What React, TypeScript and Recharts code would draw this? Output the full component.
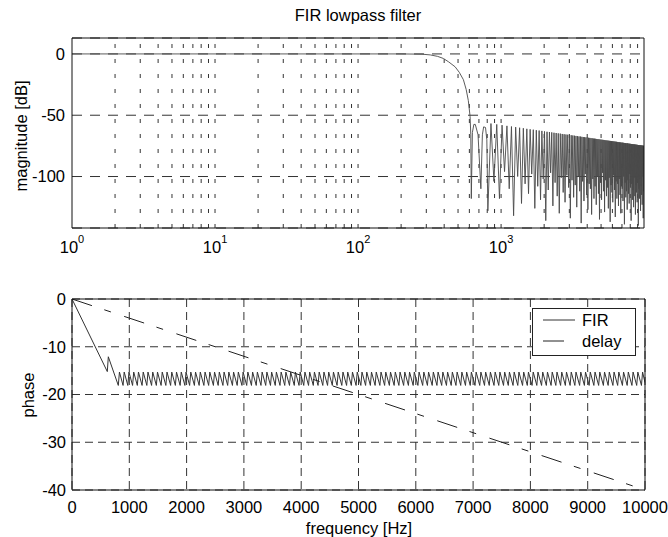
import React from 'react';
import { LineChart, Line, XAxis, YAxis, CartesianGrid, ReferenceLine, Legend } from 'recharts';

const FONT = '"Liberation Sans", Arial, Helvetica, sans-serif';
const FS = 16.5;
const INK = '#111';
const GRID = '#333';

// ---------- top panel: magnitude ----------
const magXDomain = [1, 9980];
const magYDomain = [-142, 13];
const magXTicks = [1, 10, 100, 1000];
const magYTicks = [-100, -50, 0];
const logGridHz = [
  2, 3, 4, 5, 6, 7, 8, 9, 10,
  20, 30, 40, 50, 60, 70, 80, 90, 100,
  200, 300, 400, 500, 600, 700, 800, 900, 1000,
  2000, 3000, 4000, 5000, 6000, 7000, 8000, 9000,
];

// passband + transition band
const passHz = [1, 50, 100, 200, 280, 320, 360, 395, 430, 477, 510, 545, 570, 590, 607, 614, 619, 630, 645, 660, 690, 722, 740, 755, 778, 795];
const passDb = [0, 0, 0, 0, -0.2, -0.8, -2, -3.7, -6.5, -10.5, -15, -21, -29, -38, -51, -66, -118, -64, -57.5, -57.5, -66, -110, -66, -59.5, -60, -70];

// stopband zeros (also the phase jumps)
const zeroHz = [
  808, 891, 974, 1057, 1140, 1223, 1306, 1389, 1472, 1555,
  1638, 1721, 1804, 1887, 1970, 2053, 2136, 2219, 2302, 2385,
  2468, 2551, 2634, 2717, 2800, 2883, 2966, 3049, 3132, 3215,
  3298, 3381, 3464, 3547, 3630, 3713, 3796, 3879, 3962, 4045,
  4128, 4211, 4294, 4377, 4460, 4543, 4626, 4709, 4792, 4875,
  4958, 5041, 5124, 5207, 5290, 5373, 5456, 5539, 5622, 5705,
  5788, 5871, 5954, 6037, 6120, 6203, 6286, 6369, 6452, 6535,
  6618, 6701, 6784, 6867, 6950, 7033, 7116, 7199, 7282, 7365,
  7448, 7531, 7614, 7697, 7780, 7863, 7946, 8029, 8112, 8195,
  8278, 8361, 8444, 8527, 8610, 8693, 8776, 8859, 8942, 9025,
  9108, 9191, 9274, 9357, 9440, 9523, 9606, 9689, 9772, 9855,
  9938,
];
const zeroDb = [
  -128, -104, -118, -96, -110, -132, -100, -122, -106, -114,
  -98, -126, -108, -119, -102, -136, -111, -97, -124, -105,
  -116, -130, -101, -113, -121, -99, -109, -134, -103, -117,
  -107, -125, -100, -112, -138, -104, -120, -98, -115, -127,
  -106, -110, -131, -102, -118, -108, -123, -100, -114, -135,
  -105, -119, -97, -112, -129, -103, -116, -109, -126, -101,
  -137, -107, -113, -121, -99, -111, -133, -104, -118, -106,
  -124, -102, -115, -130, -108, -110, -120, -100, -139, -105,
  -117, -112, -127, -103, -114, -122, -98, -109, -136, -106,
  -119, -111, -125, -101, -116, -131, -107, -113, -121, -104,
  -140, -110, -118, -102, -128, -108, -115, -123, -100, -134,
  -112,
];
const lobePeakDb = [
  -56.8, -57.5, -58.1, -58.7, -59.2, -59.7, -60.2, -60.6, -61.1, -61.5,
  -61.8, -62.2, -62.5, -62.8, -63.2, -63.5, -63.7, -64.0, -64.3, -64.5,
  -64.8, -65.0, -65.3, -65.5, -65.7, -65.9, -66.1, -66.3, -66.5, -66.7,
  -66.9, -67.1, -67.3, -67.4, -67.6, -67.8, -67.9, -68.1, -68.2, -68.4,
  -68.5, -68.7, -68.8, -69.0, -69.1, -69.2, -69.4, -69.5, -69.6, -69.8,
  -69.9, -70.0, -70.1, -70.2, -70.4, -70.5, -70.6, -70.7, -70.8, -70.9,
  -71.0, -71.1, -71.2, -71.3, -71.4, -71.5, -71.6, -71.7, -71.8, -71.9,
  -72.0, -72.1, -72.2, -72.3, -72.4, -72.4, -72.5, -72.6, -72.7, -72.8,
  -72.9, -72.9, -73.0, -73.1, -73.2, -73.3, -73.3, -73.4, -73.5, -73.6,
  -73.6, -73.7, -73.8, -73.9, -73.9, -74.0, -74.1, -74.1, -74.2, -74.3,
  -74.3, -74.4, -74.5, -74.5, -74.6, -74.7, -74.7, -74.8, -74.9, -74.9,
  -75.0,
];

// ---------- bottom panel: phase ----------
const phaseXDomain = [0, 10000];
const phaseYDomain = [-40, 0];
const phaseXTicks = [0, 1000, 2000, 3000, 4000, 5000, 6000, 7000, 8000, 9000, 10000];
const phaseYTicks = [-40, -30, -20, -10, 0];
const firLeadHz = [0, 616, 634];
const firLeadVal = [0, -15.2, -12.1];
const toothTopVal = -15.3;
const toothBottomVal = -18.1;
const toothRiseHz = 20;
const firTailHz = 10000;
const firTailVal = -17.5;
const delayHz = [0, 10000];
const delayVal = [0, -40];

const seriesStyle: Record<string, { stroke: string; dash?: string; width: number }> = {
  FIR: { stroke: '#333', width: 1 },
  delay: { stroke: '#222', dash: '21 13 7 14', width: 1 },
};

// ---------- build tables ----------
const magData: { f: number; db: number }[] = [];
passHz.forEach((f, i) => magData.push({ f, db: passDb[i] }));
for (let i = 0; i < zeroHz.length; i++) {
  magData.push({ f: zeroHz[i], db: zeroDb[i] });
  const next = i + 1 < zeroHz.length ? zeroHz[i + 1] : magXDomain[1];
  if (i < lobePeakDb.length) magData.push({ f: (zeroHz[i] + next) / 2, db: lobePeakDb[i] });
}

const firData: { f: number; v: number }[] = [];
firLeadHz.forEach((f, i) => firData.push({ f, v: firLeadVal[i] }));
zeroHz.forEach((z) => {
  firData.push({ f: z, v: toothBottomVal });
  firData.push({ f: z + toothRiseHz, v: toothTopVal });
});
firData.push({ f: firTailHz, v: firTailVal });

const delayData = delayHz.map((f, i) => ({ f, v: delayVal[i] }));

// ---------- ticks ----------
const LogTick = (props: any) => {
  const { x, y, payload } = props;
  const exp = String(Math.round(Math.log10(payload.value)));
  return (
    <text x={x} y={y + 25} textAnchor="middle" fontFamily={FONT} fontSize={FS} fill="#000">
      <tspan>10</tspan>
      <tspan dy={-10} fontSize={11}>{exp}</tspan>
    </text>
  );
};

const tickStyle = { fontFamily: FONT, fontSize: FS, fill: '#000' };

const renderLegend = (props: any) => {
  const items = (props.payload || []) as any[];
  return (
    <svg width={104} height={48} style={{ display: 'block' }}>
      <rect x={0.5} y={0.5} width={103} height={47} fill="#fff" stroke="#222" />
      {items.map((it, i) => {
        const st = seriesStyle[it.value] || { stroke: '#000', width: 1 };
        const cy = 12 + 21 * i;
        return (
          <g key={it.value}>
            <line x1={11} x2={43} y1={cy} y2={cy} stroke={st.stroke} strokeWidth={st.width} strokeDasharray={st.dash} />
            <text x={50} y={cy} dominantBaseline="central" fontFamily={FONT} fontSize={FS} fill="#000">{it.value}</text>
          </g>
        );
      })}
    </svg>
  );
};

export default function App() {
  return (
    <div style={{ position: 'absolute', left: 0, top: 0, width: 668, height: 537, background: '#fff', overflow: 'hidden' }}>
      <div style={{ position: 'absolute', left: 0, top: 0 }}>
        <LineChart width={668} height={260} margin={{ top: 38, right: 24, bottom: 2, left: 12 }}>
          <CartesianGrid vertical={false} stroke={GRID} strokeDasharray="10 8" />
          {logGridHz.map((v) => (
            <ReferenceLine key={v} x={v} stroke={GRID} strokeDasharray="4 11" />
          ))}
          <XAxis
            dataKey="f"
            type="number"
            scale="log"
            domain={magXDomain}
            ticks={magXTicks}
            allowDataOverflow
            interval={0}
            height={30}
            tickSize={0}
            tickMargin={0}
            tickLine={false}
            axisLine={{ stroke: INK }}
            tick={<LogTick />}
          />
          <YAxis
            type="number"
            domain={magYDomain}
            ticks={magYTicks}
            allowDataOverflow
            interval={0}
            width={60}
            tickSize={0}
            tickMargin={7}
            tickLine={false}
            axisLine={{ stroke: INK }}
            tick={tickStyle}
          />
          <Line data={magData} dataKey="db" stroke="#4a4a4a" strokeWidth={0.9} dot={false} activeDot={false} isAnimationActive={false} />
          <ReferenceLine y={magYDomain[1]} stroke={INK} />
          <ReferenceLine x={magXDomain[1]} stroke={INK} />
        </LineChart>
      </div>

      <div style={{ position: 'absolute', left: 0, top: 260 }}>
        <LineChart width={668} height={277} margin={{ top: 39, right: 23, bottom: 7, left: 22 }}>
          <CartesianGrid stroke={GRID} strokeDasharray="8 5" />
          <XAxis
            dataKey="f"
            type="number"
            domain={phaseXDomain}
            ticks={phaseXTicks}
            allowDataOverflow
            interval={0}
            height={40}
            tickSize={0}
            tickMargin={11}
            tickLine={false}
            axisLine={{ stroke: INK }}
            tick={tickStyle}
          />
          <YAxis
            type="number"
            domain={phaseYDomain}
            ticks={phaseYTicks}
            allowDataOverflow
            interval={0}
            width={50}
            tickSize={0}
            tickMargin={6}
            tickLine={false}
            axisLine={{ stroke: INK }}
            tick={tickStyle}
          />
          <Line
            name="FIR"
            data={firData}
            dataKey="v"
            stroke={seriesStyle.FIR.stroke}
            strokeWidth={seriesStyle.FIR.width}
            dot={false}
            activeDot={false}
            isAnimationActive={false}
          />
          <Line
            name="delay"
            data={delayData}
            dataKey="v"
            stroke={seriesStyle.delay.stroke}
            strokeWidth={seriesStyle.delay.width}
            strokeDasharray={seriesStyle.delay.dash}
            dot={false}
            activeDot={false}
            isAnimationActive={false}
          />
          <ReferenceLine y={phaseYDomain[1]} stroke={INK} />
          <ReferenceLine x={phaseXDomain[1]} stroke={INK} />
          <Legend
            layout="horizontal"
            verticalAlign="middle"
            align="center"
            content={renderLegend}
            wrapperStyle={{ position: 'absolute', left: 532, top: 48, width: 104, height: 48 }}
          />
        </LineChart>
      </div>

      <svg width={668} height={537} style={{ position: 'absolute', left: 0, top: 0, pointerEvents: 'none' }}>
        <text x={358} y={15} textAnchor="middle" dominantBaseline="central" fontFamily={FONT} fontSize={FS} fill="#000">
          FIR lowpass filter
        </text>
        <text x={21} y={136} transform="rotate(-90 21 136)" textAnchor="middle" dominantBaseline="central" fontFamily={FONT} fontSize={FS} fill="#000">
          magnitude [dB]
        </text>
        <text x={28} y={395} transform="rotate(-90 28 395)" textAnchor="middle" dominantBaseline="central" fontFamily={FONT} fontSize={FS} fill="#000">
          phase
        </text>
        <text x={359} y={528} textAnchor="middle" dominantBaseline="central" fontFamily={FONT} fontSize={FS} fill="#000">
          frequency [Hz]
        </text>
      </svg>
    </div>
  );
}
